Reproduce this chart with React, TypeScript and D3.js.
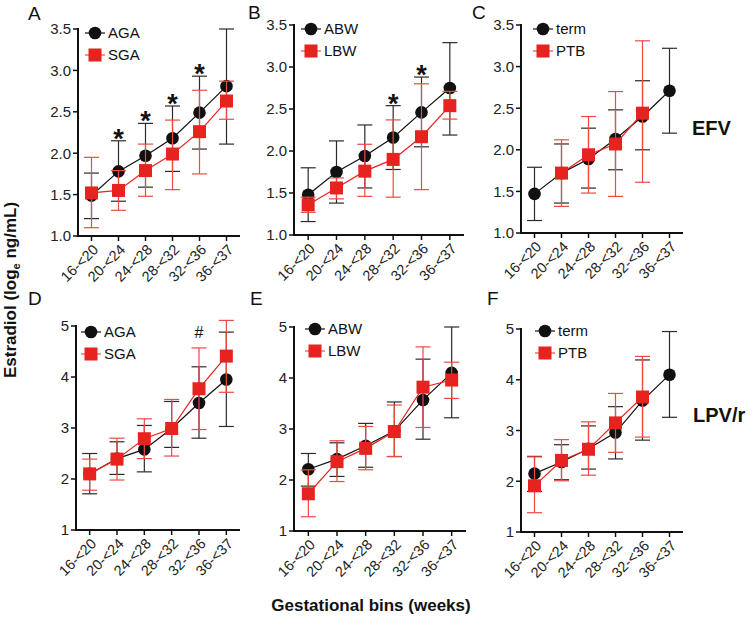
import React from 'react';
import * as d3 from 'd3';

// gestational age bins (x categories)
const bins = ['16-<20', '20-<24', '24-<28', '28-<32', '32-<36', '36-<37'];

// EFV – AGA vs SGA
const efvAgaMean = [1.49, 1.78, 1.97, 2.18, 2.49, 2.81];
const efvAgaLo = [1.21, 1.42, 1.59, 1.78, 2.05, 2.11];
const efvAgaHi = [1.76, 2.15, 2.36, 2.57, 2.93, 3.5];
const efvSgaMean = [1.52, 1.55, 1.79, 1.99, 2.26, 2.63];
const efvSgaLo = [1.1, 1.31, 1.48, 1.56, 1.75, 2.41];
const efvSgaHi = [1.95, 1.79, 2.11, 2.4, 2.76, 2.87];
const efvGaMarks = [null, '*', '*', '*', '*', null];

// EFV – ABW vs LBW
const efvAbwMean = [1.48, 1.75, 1.94, 2.16, 2.46, 2.75];
const efvAbwLo = [1.16, 1.38, 1.56, 1.78, 2.05, 2.19];
const efvAbwHi = [1.8, 2.12, 2.31, 2.54, 2.88, 3.29];
const efvLbwMean = [1.36, 1.56, 1.76, 1.9, 2.17, 2.54];
const efvLbwLo = [1.27, 1.43, 1.46, 1.45, 1.54, 2.38];
const efvLbwHi = [1.45, 1.68, 2.08, 2.37, 2.8, 2.71];
const efvBwMarks = [null, null, null, '*', '*', null];

// EFV – term vs PTB
const efvTermMean = [1.47, 1.72, 1.89, 2.13, 2.4, 2.71];
const efvTermLo = [1.15, 1.36, 1.54, 1.76, 2.0, 2.2];
const efvTermHi = [1.79, 2.07, 2.26, 2.48, 2.83, 3.22];
const efvPtbMean = [null, 1.72, 1.94, 2.07, 2.44, null];
const efvPtbLo = [null, 1.32, 1.48, 1.44, 1.61, null];
const efvPtbHi = [null, 2.12, 2.4, 2.7, 3.31, null];

// LPV/r – AGA vs SGA
const lpvAgaMean = [2.1, 2.4, 2.58, 2.99, 3.49, 3.95];
const lpvAgaLo = [1.71, 2.09, 2.14, 2.62, 2.8, 3.03];
const lpvAgaHi = [2.5, 2.73, 3.05, 3.52, 4.2, 4.88];
const lpvSgaMean = [2.1, 2.39, 2.79, 2.99, 3.77, 4.41];
const lpvSgaLo = [1.78, 1.98, 2.4, 2.45, 2.97, 3.7];
const lpvSgaHi = [2.39, 2.8, 3.18, 3.56, 4.57, 5.11];
const lpvGaMarks = [null, null, null, null, '#', null];

// LPV/r – ABW vs LBW
const lpvAbwMean = [2.21, 2.41, 2.67, 2.96, 3.57, 4.1];
const lpvAbwLo = [1.88, 2.07, 2.25, 2.46, 2.8, 3.22];
const lpvAbwHi = [2.52, 2.73, 3.11, 3.53, 4.37, 5.0];
const lpvLbwMean = [1.73, 2.36, 2.62, 2.95, 3.82, 3.96];
const lpvLbwLo = [1.28, 1.97, 2.2, 2.46, 3.03, 3.6];
const lpvLbwHi = [2.2, 2.77, 3.05, 3.47, 4.61, 4.31];

// LPV/r – term vs PTB
const lpvTermMean = [2.15, 2.38, 2.64, 2.96, 3.59, 4.1];
const lpvTermLo = [1.8, 2.03, 2.24, 2.44, 2.81, 3.26];
const lpvTermHi = [2.49, 2.72, 3.09, 3.47, 4.39, 4.95];
const lpvPtbMean = [1.91, 2.41, 2.63, 3.15, 3.66, null];
const lpvPtbLo = [1.38, 2.01, 2.12, 2.57, 2.87, null];
const lpvPtbHi = [2.48, 2.82, 3.17, 3.73, 4.46, null];

const efvTicks = [1.0, 1.5, 2.0, 2.5, 3.0, 3.5];
const lpvTicks = [1, 2, 3, 4, 5];

const RED = '#e6231e';
const RED_BAR = '#ec4a44';
const BLACK = '#111111';
const BLACK_BAR = '#2b2b2b';
const FONT = 'Liberation Sans, Arial, sans-serif';

type Val = number | null;
interface Series { name: string; mean: Val[]; lo: Val[]; hi: Val[] }

interface PanelProps {
    letter: string;
    letterX: number;
    letterY: number;
    left: number;
    right: number;
    top: number;
    bottom: number;
    ticks: number[];
    fmt: string;
    black: Series;
    red: Series;
    legendDx: number;
    legendDy: number;
    marks?: (string | null)[];
}

const Panel: React.FC<PanelProps> = (p) => {
    const x = d3.scalePoint<string>().domain(bins).range([p.left, p.right]).padding(0.5);
    const y = d3.scaleLinear().domain([p.ticks[0], p.ticks[p.ticks.length - 1]]).range([p.bottom, p.top]);
    const fmt = d3.format(p.fmt);

    const line = d3.line<Val>()
        .defined(d => d != null)
        .x((_, i) => x(bins[i]) as number)
        .y(d => y(d as number));

    const drawSeries = (s: Series, isRed: boolean) => {
        const col = isRed ? RED : BLACK;
        const barCol = isRed ? RED_BAR : BLACK_BAR;
        return (
            <g>
                {s.mean.map((m, i) => {
                    if (m == null) return null;
                    const cx = x(bins[i]) as number;
                    const y0 = y(s.lo[i] as number);
                    const y1 = y(s.hi[i] as number);
                    return (
                        <g key={i} stroke={barCol} strokeWidth={1.2}>
                            <line x1={cx} x2={cx} y1={y0} y2={y1} />
                            <line x1={cx - 7.5} x2={cx + 7.5} y1={y0} y2={y0} />
                            <line x1={cx - 7.5} x2={cx + 7.5} y1={y1} y2={y1} />
                        </g>
                    );
                })}
                <path d={line(s.mean) || ''} fill="none" stroke={col} strokeWidth={1.2} />
                {s.mean.map((m, i) => {
                    if (m == null) return null;
                    const cx = x(bins[i]) as number;
                    const cy = y(m);
                    return isRed
                        ? <rect key={i} x={cx - 6.5} y={cy - 6.5} width={13} height={13} fill={col} />
                        : <circle key={i} cx={cx} cy={cy} r={6.3} fill={col} />;
                })}
            </g>
        );
    };

    const lx = p.left + p.legendDx;
    const ly = p.top + p.legendDy;

    return (
        <g fontFamily={FONT}>
            <text x={p.letterX} y={p.letterY} fontSize={19} fill="#111">{p.letter}</text>
            {/* y axis */}
            <line x1={p.left} x2={p.left} y1={p.top - 1} y2={p.bottom + 1} stroke="#111" strokeWidth={2} />
            {p.ticks.map(t => (
                <g key={t}>
                    <line x1={p.left - 5} x2={p.left} y1={y(t)} y2={y(t)} stroke="#111" strokeWidth={1.5} />
                    <text x={p.left - 7} y={y(t)} dy="0.36em" textAnchor="end" fontSize={15} fill="#222">{fmt(t)}</text>
                </g>
            ))}
            {/* x axis */}
            <line x1={p.left - 1} x2={p.right} y1={p.bottom} y2={p.bottom} stroke="#111" strokeWidth={2} />
            {bins.map(b => {
                const bx = x(b) as number;
                return (
                    <g key={b}>
                        <line x1={bx} x2={bx} y1={p.bottom} y2={p.bottom + 5} stroke="#111" strokeWidth={1.5} />
                        <text transform={`translate(${bx + 4},${p.bottom + 11}) rotate(-45)`} textAnchor="end" dy="0.35em" fontSize={14.5} fill="#222">{b}</text>
                    </g>
                );
            })}
            {drawSeries(p.black, false)}
            {drawSeries(p.red, true)}
            {p.marks && p.marks.map((mk, i) => {
                if (!mk) return null;
                const bx = x(bins[i]) as number;
                const top = Math.min(y(p.black.hi[i] as number), p.red.hi[i] != null ? y(p.red.hi[i] as number) : Infinity);
                return mk === '*'
                    ? <text key={i} x={bx} y={top + 7} textAnchor="middle" fontSize={27} fontWeight="bold" fill="#111">*</text>
                    : <text key={i} x={bx} y={top - 10} textAnchor="middle" fontSize={16} fill="#111">{mk}</text>;
            })}
            {/* legend */}
            <g>
                <line x1={lx - 10} x2={lx + 10} y1={ly} y2={ly} stroke={BLACK} strokeWidth={1.2} />
                <circle cx={lx} cy={ly} r={6.3} fill={BLACK} />
                <text x={lx + 13} y={ly} dy="0.36em" fontSize={15} fill="#111">{p.black.name}</text>
                <line x1={lx - 10} x2={lx + 10} y1={ly + 22} y2={ly + 22} stroke={RED_BAR} strokeWidth={1.2} />
                <rect x={lx - 6.5} y={ly + 15.5} width={13} height={13} fill={RED} />
                <text x={lx + 13} y={ly + 22} dy="0.36em" fontSize={15} fill="#111">{p.red.name}</text>
            </g>
        </g>
    );
};

export default function App() {
    return (
        <svg width={752} height={618} style={{ position: 'absolute', left: 0, top: 0, background: '#fff' }}>
            <Panel letter="A" letterX={28} letterY={20} left={78} right={240} top={29} bottom={236}
                ticks={efvTicks} fmt=".1f" legendDx={17} legendDy={4} marks={efvGaMarks}
                black={{ name: 'AGA', mean: efvAgaMean, lo: efvAgaLo, hi: efvAgaHi }}
                red={{ name: 'SGA', mean: efvSgaMean, lo: efvSgaLo, hi: efvSgaHi }} />
            <Panel letter="B" letterX={248} letterY={19} left={294} right={464} top={25} bottom={235}
                ticks={efvTicks} fmt=".1f" legendDx={17} legendDy={4} marks={efvBwMarks}
                black={{ name: 'ABW', mean: efvAbwMean, lo: efvAbwLo, hi: efvAbwHi }}
                red={{ name: 'LBW', mean: efvLbwMean, lo: efvLbwLo, hi: efvLbwHi }} />
            <Panel letter="C" letterX={472} letterY={19} left={521} right={683} top={25} bottom={233}
                ticks={efvTicks} fmt=".1f" legendDx={22} legendDy={4}
                black={{ name: 'term', mean: efvTermMean, lo: efvTermLo, hi: efvTermHi }}
                red={{ name: 'PTB', mean: efvPtbMean, lo: efvPtbLo, hi: efvPtbHi }} />
            <Panel letter="D" letterX={28} letterY={305} left={76} right={240} top={326} bottom={530}
                ticks={lpvTicks} fmt="d" legendDx={15} legendDy={6} marks={lpvGaMarks}
                black={{ name: 'AGA', mean: lpvAgaMean, lo: lpvAgaLo, hi: lpvAgaHi }}
                red={{ name: 'SGA', mean: lpvSgaMean, lo: lpvSgaLo, hi: lpvSgaHi }} />
            <Panel letter="E" letterX={250} letterY={305} left={294} right={466} top={327} bottom={531}
                ticks={lpvTicks} fmt="d" legendDx={21} legendDy={2}
                black={{ name: 'ABW', mean: lpvAbwMean, lo: lpvAbwLo, hi: lpvAbwHi }}
                red={{ name: 'LBW', mean: lpvLbwMean, lo: lpvLbwLo, hi: lpvLbwHi }} />
            <Panel letter="F" letterX={487} letterY={305} left={521} right={683} top={329} bottom={532}
                ticks={lpvTicks} fmt="d" legendDx={24} legendDy={2}
                black={{ name: 'term', mean: lpvTermMean, lo: lpvTermLo, hi: lpvTermHi }}
                red={{ name: 'PTB', mean: lpvPtbMean, lo: lpvPtbLo, hi: lpvPtbHi }} />

            <text x={692} y={128} dy="0.36em" fontFamily={FONT} fontWeight="bold" fontSize={20} fill="#111">EFV</text>
            <text x={693} y={415} dy="0.36em" fontFamily={FONT} fontWeight="bold" fontSize={20} fill="#111">LPV/r</text>

            <text transform="translate(16,290) rotate(-90)" textAnchor="middle" fontFamily={FONT} fontWeight="bold" fontSize={17} fill="#111">
                Estradiol (log<tspan fontSize={11} dy={4}>e</tspan><tspan dy={-4}> ng/mL)</tspan>
            </text>
            <text x={371} y={605} dy="0.36em" textAnchor="middle" fontFamily={FONT} fontWeight="bold" fontSize={17} fill="#111">Gestational bins (weeks)</text>
        </svg>
    );
}
